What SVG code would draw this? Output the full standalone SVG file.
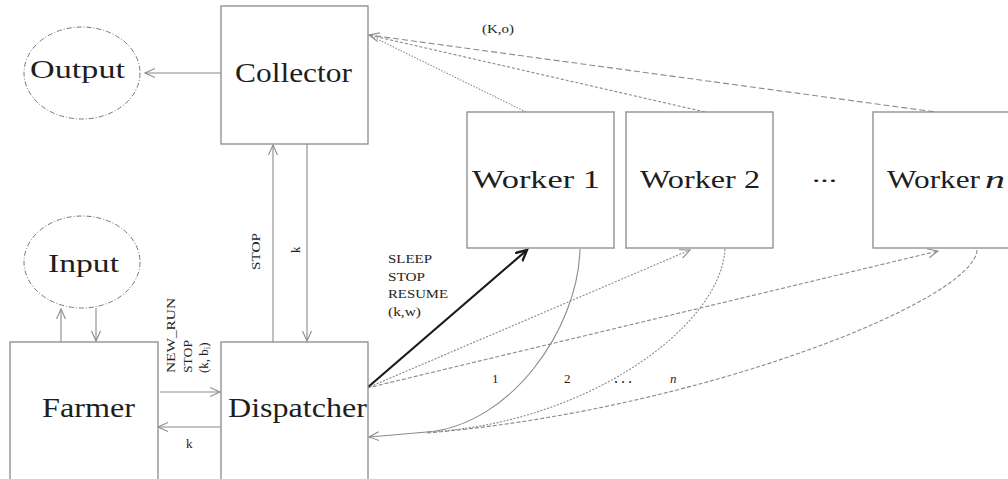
<svg xmlns="http://www.w3.org/2000/svg" width="1008" height="479" viewBox="0 0 1008 479">
<defs>
<style>
.box{fill:#fff;stroke:#8a8a8a;stroke-width:1.3}
.ell{fill:#fff;stroke:#777;stroke-width:1;stroke-dasharray:5 2 1 2}
.lbl{font-family:"Liberation Serif","DejaVu Serif",serif;fill:#1e1e1e}
.big{font-size:26px}
.sm{font-size:13px}
.ln{fill:none;stroke:#8a8a8a;stroke-width:1.1}
.thick{fill:none;stroke:#1a1a1a;stroke-width:2.2}
</style>
<marker id="ah" markerUnits="userSpaceOnUse" markerWidth="12" markerHeight="12" refX="10" refY="5" orient="auto">
<path d="M0,0.5 L10,5 L0,9.5" fill="none" stroke="#8a8a8a" stroke-width="1.1"/>
</marker>
<marker id="ahk" markerUnits="userSpaceOnUse" markerWidth="14" markerHeight="14" refX="11" refY="6" orient="auto">
<path d="M0,0.5 L11,6 L0,11.5" fill="none" stroke="#1a1a1a" stroke-width="2.4"/>
</marker>
</defs>
<rect width="1008" height="479" fill="#fff"/>

<g id="connectors">
<line class="ln" x1="221" y1="73" x2="145" y2="73" marker-end="url(#ah)"/>
<line class="ln" x1="61" y1="342" x2="61" y2="309" marker-end="url(#ah)"/>
<line class="ln" x1="96" y1="308" x2="96" y2="341" marker-end="url(#ah)"/>
<line class="ln" x1="273" y1="342" x2="273" y2="145" marker-end="url(#ah)"/>
<line class="ln" x1="307" y1="144" x2="307" y2="341" marker-end="url(#ah)"/>
<line class="ln" x1="160" y1="392" x2="220" y2="392" marker-end="url(#ah)"/>
<line class="ln" x1="221" y1="427" x2="158" y2="427" marker-end="url(#ah)"/>
<line class="ln" x1="526" y1="112" x2="369" y2="35" stroke-dasharray="1.5 1.5"/>
<line class="ln" x1="705" y1="112" x2="369" y2="35" stroke-dasharray="3 2" marker-end="url(#ah)"/>
<line class="ln" x1="943" y1="113" x2="369" y2="35" stroke-dasharray="6 3"/>
<line class="thick" x1="367" y1="388" x2="527" y2="250" marker-end="url(#ahk)"/>
<line class="ln" x1="367" y1="388" x2="690" y2="250" stroke-dasharray="2 1.5" marker-end="url(#ah)"/>
<line class="ln" x1="367" y1="388" x2="938" y2="251" stroke-dasharray="4 2" marker-end="url(#ah)"/>
<path class="ln" d="M580,249 C578,330 510,425 427,432"/>
<path class="ln" d="M725,249 C720,330 580,425 427,432" stroke-dasharray="2 1.5"/>
<path class="ln" d="M977,250 C975,300 700,410 427,433" stroke-dasharray="4 2"/>
<line class="ln" x1="427" y1="432" x2="369" y2="437" marker-end="url(#ah)"/>
</g>

<g id="output">
<ellipse class="ell" cx="82" cy="73" rx="58" ry="46"/>
<text class="lbl big" x="30" y="78" textLength="95" lengthAdjust="spacingAndGlyphs">Output</text>
</g>
<g id="input">
<ellipse class="ell" cx="82" cy="262" rx="58" ry="46"/>
<text class="lbl big" x="48" y="272" textLength="71" lengthAdjust="spacingAndGlyphs">Input</text>
</g>
<g id="collector">
<rect class="box" x="221" y="6" width="147" height="138"/>
<text class="lbl" font-size="27" x="235" y="82" textLength="117" lengthAdjust="spacingAndGlyphs">Collector</text>
</g>
<g id="farmer">
<rect class="box" x="10" y="342" width="148" height="150"/>
<text class="lbl" font-size="28" x="42" y="417" textLength="93" lengthAdjust="spacingAndGlyphs">Farmer</text>
</g>
<g id="dispatcher">
<rect class="box" x="221" y="342" width="147" height="150"/>
<text class="lbl" font-size="28" x="228" y="417" textLength="139" lengthAdjust="spacingAndGlyphs">Dispatcher</text>
</g>
<g id="worker1">
<rect class="box" x="467" y="112" width="147" height="136"/>
<text class="lbl" font-size="25" x="472" y="188" textLength="128" lengthAdjust="spacingAndGlyphs">Worker 1</text>
</g>
<g id="worker2">
<rect class="box" x="626" y="112" width="147" height="136"/>
<text class="lbl" font-size="25" x="640" y="188" textLength="120" lengthAdjust="spacingAndGlyphs">Worker 2</text>
</g>
<g id="ellipsis">
<text class="lbl" font-size="22" x="812" y="182" textLength="25" lengthAdjust="spacingAndGlyphs">...</text>
</g>
<g id="workern">
<rect class="box" x="873" y="112" width="160" height="136"/>
<text class="lbl" font-size="25" x="887" y="188"><tspan textLength="93" lengthAdjust="spacingAndGlyphs">Worker</tspan><tspan x="985" font-style="italic" textLength="20" lengthAdjust="spacingAndGlyphs">n</tspan></text>
</g>

<g id="labels">
<text class="lbl" font-size="12" x="482" y="33" textLength="32" lengthAdjust="spacingAndGlyphs">(K,o)</text>
<text class="lbl sm" x="388" y="263" textLength="44" lengthAdjust="spacingAndGlyphs">SLEEP</text>
<text class="lbl sm" x="388" y="280.5" textLength="37" lengthAdjust="spacingAndGlyphs">STOP</text>
<text class="lbl sm" x="388" y="298" textLength="60" lengthAdjust="spacingAndGlyphs">RESUME</text>
<text class="lbl sm" x="388" y="315.5" textLength="33" lengthAdjust="spacingAndGlyphs">(k,w)</text>
<text class="lbl sm" x="186" y="448">k</text>
<text class="lbl sm" transform="translate(175,373) rotate(-90)" x="0" y="0" textLength="75" lengthAdjust="spacingAndGlyphs">NEW_RUN</text>
<text class="lbl sm" transform="translate(192,373) rotate(-90)" x="0" y="0" textLength="33" lengthAdjust="spacingAndGlyphs">STOP</text>
<text class="lbl sm" transform="translate(208,373) rotate(-90)" x="0" y="0">(k, b<tspan font-size="9" dy="2">i</tspan><tspan dy="-2">)</tspan></text>
<text class="lbl sm" transform="translate(260,270) rotate(-90)" x="0" y="0" textLength="37" lengthAdjust="spacingAndGlyphs">STOP</text>
<text class="lbl sm" transform="translate(300,253) rotate(-90)" x="0" y="0">k</text>
<text class="lbl sm" x="492" y="383">1</text>
<text class="lbl sm" x="564" y="383">2</text>
<text class="lbl" font-size="16" x="614" y="383" letter-spacing="3">...</text>
<text class="lbl sm" x="670" y="383" font-style="italic">n</text>
</g>
</svg>
